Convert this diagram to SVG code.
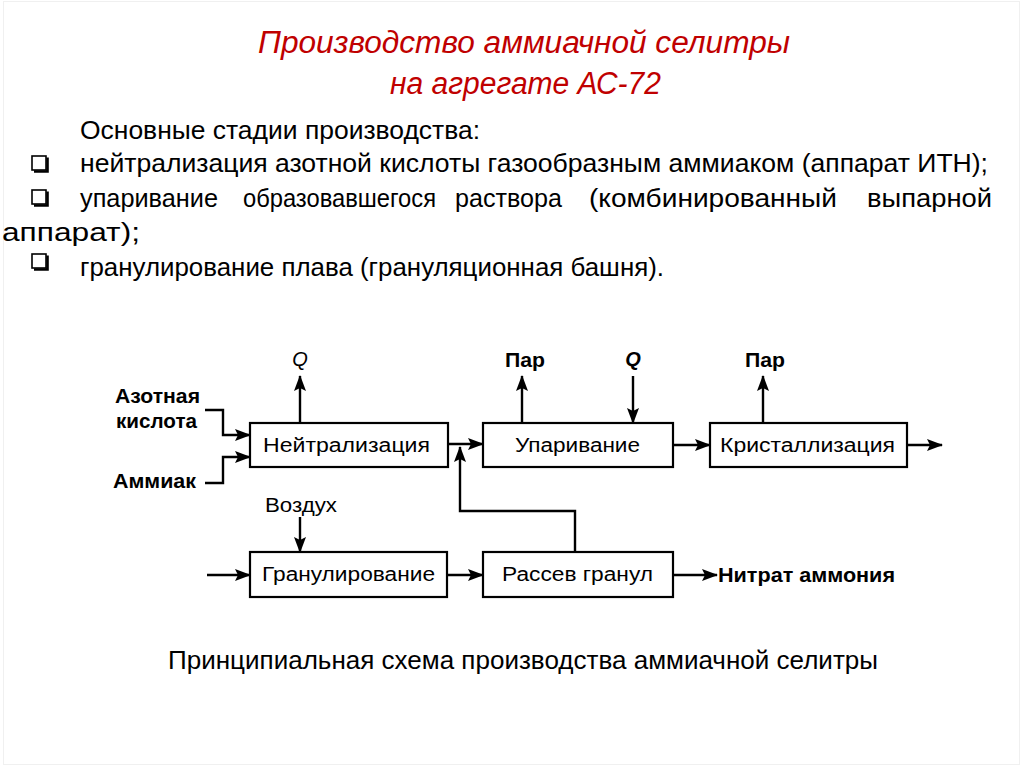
<svg xmlns="http://www.w3.org/2000/svg" width="1024" height="767" viewBox="0 0 1024 767">
<defs>
<style>
.title{font-family:"Liberation Sans",Arial,sans-serif;font-style:italic;font-size:31px;fill:#C00000}
.body{font-family:"Liberation Sans",Arial,sans-serif;font-size:26px;fill:#000}
.lbl{font-family:"Liberation Sans",Arial,sans-serif;font-size:20px;fill:#000}
.lblb{font-family:"Liberation Sans",Arial,sans-serif;font-size:20px;font-weight:bold;fill:#000}
.box{fill:#fff;stroke:#000;stroke-width:2.2}
.ln{fill:none;stroke:#000;stroke-width:2.4}
.chk{fill:#fff;stroke:#000;stroke-width:1.6}
.shd{fill:none;stroke:#000;stroke-width:2.6}
</style>
<marker id="ah" markerUnits="userSpaceOnUse" markerWidth="16" markerHeight="14" viewBox="0 0 16 14" refX="15" refY="7" orient="auto">
<path d="M0,1 L16,7 L0,13 L3,7 Z" fill="#000"/>
</marker>
</defs>
<rect x="0" y="0" width="1024" height="767" fill="#fff"/>
<rect x="3.5" y="1.5" width="1016" height="763" fill="none" stroke="#f0f0f0" stroke-width="1"/>

<g id="title">
<text class="title" x="258" y="53" textLength="532" lengthAdjust="spacingAndGlyphs">Производство аммиачной селитры</text>
<text class="title" x="390" y="94" textLength="271" lengthAdjust="spacingAndGlyphs">на агрегате АС-72</text>
</g>

<g id="stages">
<text class="body" x="80" y="139" textLength="400" lengthAdjust="spacingAndGlyphs">Основные стадии производства:</text>
<g id="chk1"><rect class="chk" x="32" y="156" width="14" height="14"/><path class="shd" d="M34,171.5 h13.5 v-14"/></g>
<text class="body" x="80" y="172" textLength="908" lengthAdjust="spacingAndGlyphs">нейтрализация азотной кислоты газообразным аммиаком (аппарат ИТН);</text>
<g id="chk2"><rect class="chk" x="32" y="190" width="14" height="14"/><path class="shd" d="M34,205.5 h13.5 v-14"/></g>
<text class="body" y="207"><tspan x="80" textLength="138" lengthAdjust="spacingAndGlyphs">упаривание</tspan><tspan x="243" textLength="193" lengthAdjust="spacingAndGlyphs">образовавшегося</tspan><tspan x="455" textLength="107" lengthAdjust="spacingAndGlyphs">раствора</tspan><tspan x="589" textLength="248" lengthAdjust="spacingAndGlyphs">(комбинированный</tspan><tspan x="867" textLength="125" lengthAdjust="spacingAndGlyphs">выпарной</tspan></text>
<text class="body" x="2" y="241" textLength="138" lengthAdjust="spacingAndGlyphs">аппарат);</text>
<g id="chk3"><rect class="chk" x="32" y="254" width="14" height="14"/><path class="shd" d="M34,269.5 h13.5 v-14"/></g>
<text class="body" x="80" y="276" textLength="584" lengthAdjust="spacingAndGlyphs">гранулирование плава (грануляционная башня).</text>
</g>

<g id="connectors">
<path class="ln" d="M300,423 V376" marker-end="url(#ah)"/>
<path class="ln" d="M205,410 H223 V435 H250" marker-end="url(#ah)"/>
<path class="ln" d="M205,483 H223 V457 H250" marker-end="url(#ah)"/>
<path class="ln" d="M448,444 H483" marker-end="url(#ah)"/>
<path class="ln" d="M575,552 V511 H460 V447" marker-end="url(#ah)"/>
<path class="ln" d="M522,423 V376" marker-end="url(#ah)"/>
<path class="ln" d="M633,376 V423" marker-end="url(#ah)"/>
<path class="ln" d="M673,445 H710" marker-end="url(#ah)"/>
<path class="ln" d="M763,423 V376" marker-end="url(#ah)"/>
<path class="ln" d="M907,445 H942" marker-end="url(#ah)"/>
<path class="ln" d="M300,517 V552" marker-end="url(#ah)"/>
<path class="ln" d="M207,575 H250" marker-end="url(#ah)"/>
<path class="ln" d="M447,575 H483" marker-end="url(#ah)"/>
<path class="ln" d="M673,575 H717" marker-end="url(#ah)"/>
</g>

<g id="n-neutr">
<rect class="box" x="250" y="423" width="198" height="44"/>
<text class="lbl" x="263" y="452" textLength="167" lengthAdjust="spacingAndGlyphs">Нейтрализация</text>
</g>
<g id="n-upar">
<rect class="box" x="483" y="423" width="190" height="44"/>
<text class="lbl" x="515" y="452" textLength="125" lengthAdjust="spacingAndGlyphs">Упаривание</text>
</g>
<g id="n-krist">
<rect class="box" x="710" y="423" width="197" height="44"/>
<text class="lbl" x="720" y="452" textLength="175" lengthAdjust="spacingAndGlyphs">Кристаллизация</text>
</g>
<g id="n-granul">
<rect class="box" x="250" y="552" width="197" height="45"/>
<text class="lbl" x="262" y="581" textLength="173" lengthAdjust="spacingAndGlyphs">Гранулирование</text>
</g>
<g id="n-rassev">
<rect class="box" x="483" y="552" width="190" height="45"/>
<text class="lbl" x="502" y="581" textLength="151" lengthAdjust="spacingAndGlyphs">Рассев гранул</text>
</g>

<g id="labels">
<text class="lbl" x="300" y="366" text-anchor="middle" font-style="italic">Q</text>
<text class="lblb" x="633" y="366" text-anchor="middle" font-style="italic">Q</text>
<text class="lblb" x="505" y="367" textLength="40" lengthAdjust="spacingAndGlyphs">Пар</text>
<text class="lblb" x="745" y="367" textLength="40" lengthAdjust="spacingAndGlyphs">Пар</text>
<text class="lblb" x="115" y="403" textLength="85" lengthAdjust="spacingAndGlyphs">Азотная</text>
<text class="lblb" x="116" y="428" textLength="81" lengthAdjust="spacingAndGlyphs">кислота</text>
<text class="lblb" x="113" y="488" textLength="83" lengthAdjust="spacingAndGlyphs">Аммиак</text>
<text class="lbl" x="265" y="512" textLength="72" lengthAdjust="spacingAndGlyphs">Воздух</text>
<text class="lblb" x="718" y="582" textLength="177" lengthAdjust="spacingAndGlyphs">Нитрат аммония</text>
</g>

<g id="caption">
<text class="body" x="168" y="669" textLength="710" lengthAdjust="spacingAndGlyphs">Принципиальная схема производства аммиачной селитры</text>
</g>
</svg>
